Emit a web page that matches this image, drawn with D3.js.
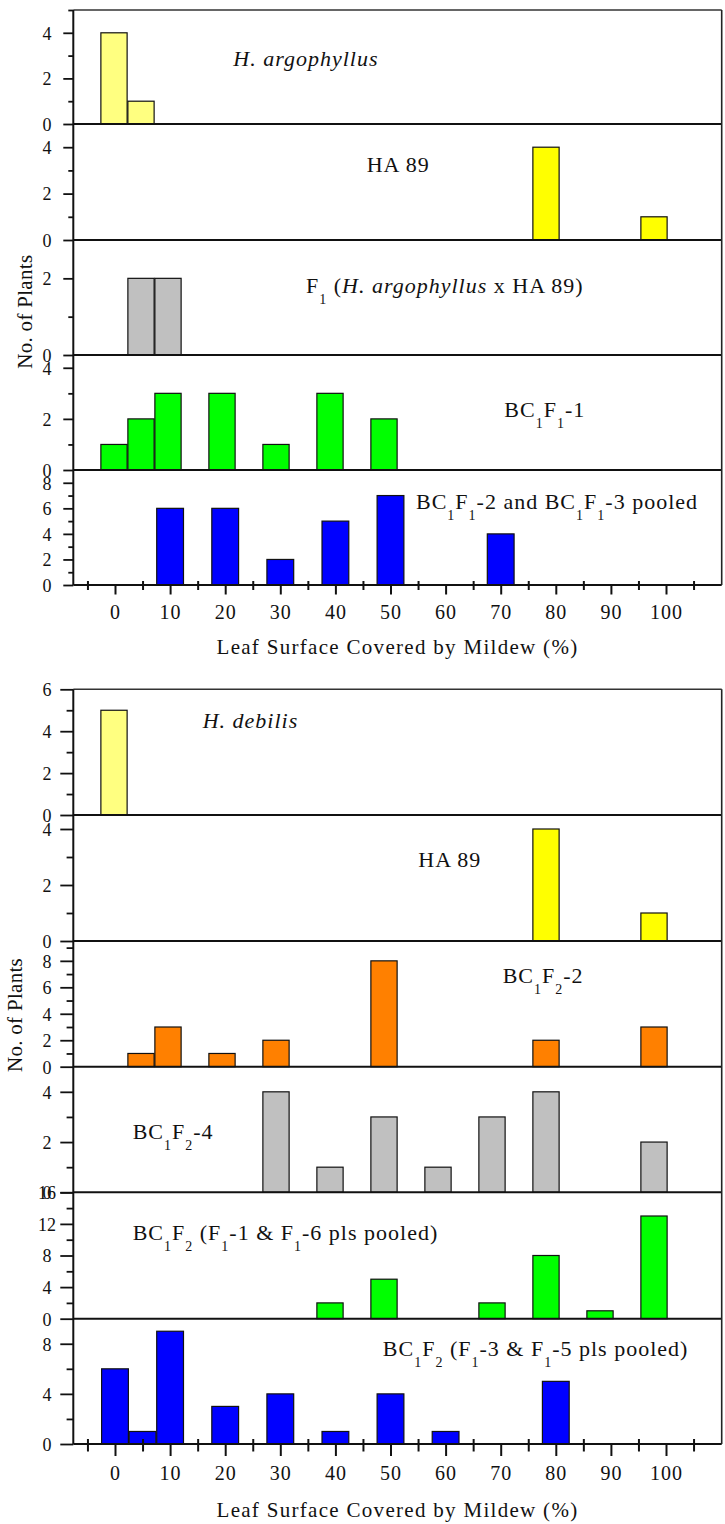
<!DOCTYPE html>
<html><head><meta charset="utf-8">
<script src="https://cdn.jsdelivr.net/npm/d3@7"></script>
<style>
body{margin:0;background:#fff}
svg{display:block}
text{font-family:"Liberation Serif","Times New Roman",serif;fill:#111;white-space:pre}
</style>
</head><body>
<svg id="chart" width="725" height="1524"></svg>
<script>
// ---------------- data ----------------
const xTickLabels = [0, 10, 20, 30, 40, 50, 60, 70, 80, 90, 100];
const xMinorTicks = [-5, 5, 15, 25, 35, 45, 55, 65, 75, 85, 95, 105];

// Figure A (H. argophyllus cross)
const argophyllusBins = [0, 5];
const argophyllusCounts = [4, 1];
const ha89ABins = [80, 100];
const ha89ACounts = [4, 1];
const f1Bins = [5, 10];
const f1Counts = [2, 2];
const bc1f1_1Bins = [0, 5, 10, 20, 30, 40, 50];
const bc1f1_1Counts = [1, 2, 3, 3, 1, 3, 2];
const bc1f1_23Bins = [10, 20, 30, 40, 50, 70];
const bc1f1_23Counts = [6, 6, 2, 5, 7, 4];

// Figure B (H. debilis cross)
const debilisBins = [0];
const debilisCounts = [5];
const ha89BBins = [80, 100];
const ha89BCounts = [4, 1];
const bc1f2_2Bins = [5, 10, 20, 30, 50, 80, 100];
const bc1f2_2Counts = [1, 3, 1, 2, 8, 2, 3];
const bc1f2_4Bins = [30, 40, 50, 60, 70, 80, 100];
const bc1f2_4Counts = [4, 1, 3, 1, 3, 4, 2];
const bc1f2_16Bins = [40, 50, 70, 80, 90, 100];
const bc1f2_16Counts = [2, 5, 2, 8, 1, 13];
const bc1f2_35Bins = [0, 5, 10, 20, 30, 40, 50, 60, 80];
const bc1f2_35Counts = [6, 1, 9, 3, 4, 1, 4, 1, 5];

// y tick labels / minor ticks / axis maxima per panel
const yLabelsA = [[0, 2, 4], [0, 2, 4], [0, 2], [0, 2, 4], [0, 2, 4, 6, 8]];
const yMinorA  = [[1, 3, 5], [1, 3], [1], [1, 3], [1, 3, 5, 7]];
const yMaxA    = [5, 5, 3, 4.5, 9];
const yLabelsB = [[0, 2, 4, 6], [0, 2, 4], [0, 2, 4, 6, 8], [0, 2, 4], [0, 4, 8, 12, 16], [0, 4, 8]];
const yMinorB  = [[1, 3, 5], [1, 3], [1, 3, 5, 7, 9], [1, 3], [2, 6, 10, 14], [2, 6]];
const yMaxB    = [6, 4.5, 9.5, 5, 16, 10];

const xTitle = "Leaf Surface Covered by Mildew (%)";
const yTitle = "No. of Plants";

// ---------------- layout / style ----------------
const svg = d3.select("#chart");
const LEFT = 73.3, RIGHT = 721.7;
const BAR_W = 4.86;
// the lowest panel and the axis share one scale; the upper panels in the original are slightly compressed
const xAxisScale = d3.scaleLinear().domain([0, 100]).range([115, 666]);
const xUpperScale = d3.scaleLinear().domain([0, 100]).range([114, 654]);

const chartA = {
  edges: [10, 124, 240, 355, 470, 585],
  yMax: yMaxA, yLabels: yLabelsA, yMinor: yMinorA,
  majorLen: 10, minorLen: 5,
  xMajor: 9.5, xMinorUp: 4, xMinorDown: 5, xLabelDy: 33.5, xTitleDy: 69,
  yTitle: {x: 31.5, y: 311.7},
  panels: [
    {bins: argophyllusBins, counts: argophyllusCounts, fill: "#FFFF80",
     label: [{t: "H. argophyllus", i: true}], lx: 233.3, ly: 65.7},
    {bins: ha89ABins, counts: ha89ACounts, fill: "#FFFF00",
     label: [{t: "HA 89"}], lx: 366.7, ly: 171.7},
    {bins: f1Bins, counts: f1Counts, fill: "#C0C0C0",
     label: [{t: "F"}, {t: "1", s: true}, {t: " ("}, {t: "H. argophyllus", i: true}, {t: " x HA 89)"}], lx: 306, ly: 293.3},
    {bins: bc1f1_1Bins, counts: bc1f1_1Counts, fill: "#00FF00",
     label: [{t: "BC"}, {t: "1", s: true}, {t: "F"}, {t: "1", s: true}, {t: "-1"}], lx: 504.3, ly: 416.7},
    {bins: bc1f1_23Bins, counts: bc1f1_23Counts, fill: "#0000FF",
     label: [{t: "BC"}, {t: "1", s: true}, {t: "F"}, {t: "1", s: true}, {t: "-2 and BC"}, {t: "1", s: true}, {t: "F"}, {t: "1", s: true}, {t: "-3 pooled"}], lx: 416, ly: 509.3}
  ]
};

const chartB = {
  edges: [689.3, 815, 941, 1066.7, 1192.3, 1318.7, 1444],
  yMax: yMaxB, yLabels: yLabelsB, yMinor: yMinorB,
  majorLen: 13, minorLen: 6.7,
  xMajor: 12, xMinorUp: 5, xMinorDown: 7.5, xLabelDy: 36, xTitleDy: 72.7,
  yTitle: {x: 21.5, y: 1015},
  panels: [
    {bins: debilisBins, counts: debilisCounts, fill: "#FFFF80",
     label: [{t: "H. debilis", i: true}], lx: 202.7, ly: 728.3},
    {bins: ha89BBins, counts: ha89BCounts, fill: "#FFFF00",
     label: [{t: "HA 89"}], lx: 418.3, ly: 866.8},
    {bins: bc1f2_2Bins, counts: bc1f2_2Counts, fill: "#FF8000",
     label: [{t: "BC"}, {t: "1", s: true}, {t: "F"}, {t: "2", s: true}, {t: "-2"}], lx: 502.7, ly: 982.6},
    {bins: bc1f2_4Bins, counts: bc1f2_4Counts, fill: "#C0C0C0",
     label: [{t: "BC"}, {t: "1", s: true}, {t: "F"}, {t: "2", s: true}, {t: "-4"}], lx: 132.7, ly: 1139},
    {bins: bc1f2_16Bins, counts: bc1f2_16Counts, fill: "#00FF00",
     label: [{t: "BC"}, {t: "1", s: true}, {t: "F"}, {t: "2", s: true}, {t: " (F"}, {t: "1", s: true}, {t: "-1 & F"}, {t: "1", s: true}, {t: "-6 pls pooled)"}], lx: 132.7, ly: 1240},
    {bins: bc1f2_35Bins, counts: bc1f2_35Counts, fill: "#0000FF",
     label: [{t: "BC"}, {t: "1", s: true}, {t: "F"}, {t: "2", s: true}, {t: " (F"}, {t: "1", s: true}, {t: "-3 & F"}, {t: "1", s: true}, {t: "-5 pls pooled)"}], lx: 382.8, ly: 1356}
  ]
};

function drawLabel(g, segs, x, y) {
  const t = g.append("text").attr("x", x).attr("y", y)
    .attr("font-size", 22).attr("letter-spacing", "1px");
  let down = false;
  segs.forEach(s => {
    const ts = t.append("tspan").text(s.t);
    if (s.i) ts.attr("font-style", "italic");
    if (s.s) { ts.attr("font-size", 14).attr("dy", 11); down = true; }
    else if (down) { ts.attr("dy", -11); down = false; }
  });
}

function drawChart(c) {
  const g = svg.append("g");
  const n = c.panels.length;
  c.panels.forEach((p, i) => {
    const top = c.edges[i], bottom = c.edges[i + 1];
    const y = d3.scaleLinear().domain([0, c.yMax[i]]).range([bottom, top]);
    const x = (i === n - 1) ? xAxisScale : xUpperScale;
    const bw = x(BAR_W) - x(0);
    // bars
    g.append("g").selectAll("rect")
      .data(p.bins.map((b, k) => ({b, v: p.counts[k]})))
      .join("rect")
      .attr("x", d => x(d.b) - bw / 2)
      .attr("y", d => y(d.v))
      .attr("width", bw)
      .attr("height", d => y(0) - y(d.v))
      .attr("fill", p.fill)
      .attr("stroke", "#111")
      .attr("stroke-width", 1.2);
    // y major ticks + labels
    const ya = g.append("g").attr("transform", `translate(${LEFT},0)`)
      .call(d3.axisLeft(y).tickValues(c.yLabels[i]).tickSize(c.majorLen).tickFormat(d3.format("d")));
    ya.select(".domain").remove();
    ya.selectAll("line").attr("stroke", "#111").attr("stroke-width", 1.8);
    ya.selectAll("text").attr("text-anchor", "middle").attr("x", 47 - LEFT)
      .attr("dy", "0.35em").attr("font-size", 18)
      .attr("font-family", "'Liberation Serif','Times New Roman',serif").attr("fill", "#111");
    // y minor ticks
    const ym = g.append("g").attr("transform", `translate(${LEFT},0)`)
      .call(d3.axisLeft(y).tickValues(c.yMinor[i]).tickSize(c.minorLen).tickFormat(""));
    ym.select(".domain").remove();
    ym.selectAll("line").attr("stroke", "#111").attr("stroke-width", 1.8);
    // separator / baseline
    g.append("line").attr("x1", LEFT).attr("x2", RIGHT).attr("y1", bottom).attr("y2", bottom)
      .attr("stroke", "#111").attr("stroke-width", 2);
    drawLabel(g, p.label, p.lx, p.ly);
  });
  const top = c.edges[0], base = c.edges[n];
  // frame
  g.append("line").attr("x1", LEFT).attr("x2", RIGHT).attr("y1", top).attr("y2", top)
    .attr("stroke", "#333").attr("stroke-width", 1.5);
  g.append("line").attr("x1", RIGHT).attr("x2", RIGHT).attr("y1", top).attr("y2", base)
    .attr("stroke", "#222").attr("stroke-width", 1.6);
  g.append("line").attr("x1", LEFT).attr("x2", LEFT).attr("y1", top).attr("y2", base)
    .attr("stroke", "#111").attr("stroke-width", 2);
  // x axis major ticks + labels
  const xa = g.append("g").attr("transform", `translate(0,${base})`)
    .call(d3.axisBottom(xAxisScale).tickValues(xTickLabels).tickSize(c.xMajor).tickFormat(d3.format("d")));
  xa.select(".domain").remove();
  xa.selectAll("line").attr("stroke", "#111").attr("stroke-width", 2);
  xa.selectAll("text").attr("y", c.xLabelDy).attr("dy", 0).attr("font-size", 20)
    .attr("letter-spacing", "1px")
    .attr("font-family", "'Liberation Serif','Times New Roman',serif").attr("fill", "#111");
  // x axis minor ticks (crossing)
  const xm = g.append("g").attr("transform", `translate(0,${base})`)
    .call(d3.axisBottom(xAxisScale).tickValues(xMinorTicks).tickSize(c.xMinorDown).tickFormat(""));
  xm.select(".domain").remove();
  xm.selectAll("line").attr("y1", -c.xMinorUp).attr("y2", c.xMinorDown)
    .attr("stroke", "#111").attr("stroke-width", 2);
  // titles
  g.append("text").attr("x", (LEFT + RIGHT) / 2).attr("y", base + c.xTitleDy)
    .attr("text-anchor", "middle").attr("font-size", 21).attr("letter-spacing", "1.3px")
    .text(xTitle);
  g.append("text").attr("transform", `translate(${c.yTitle.x},${c.yTitle.y}) rotate(-90)`)
    .attr("text-anchor", "middle").attr("font-size", 21).attr("letter-spacing", "0.3px")
    .text(yTitle);
}

drawChart(chartA);
drawChart(chartB);
</script>
</body></html>
